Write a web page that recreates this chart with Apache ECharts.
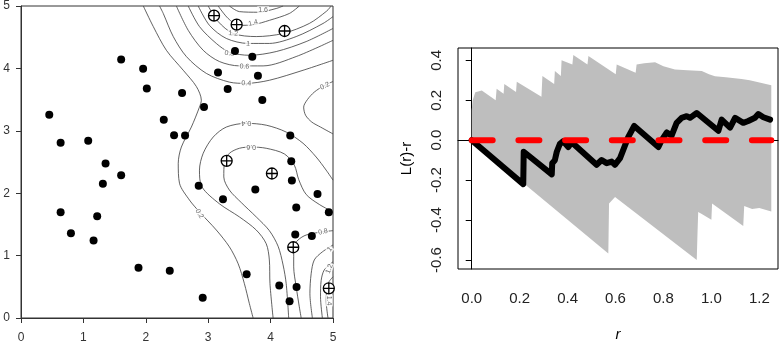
<!DOCTYPE html>
<html><head><meta charset="utf-8">
<script src="https://cdn.jsdelivr.net/npm/echarts@6/dist/echarts.min.js"></script>
<style>html,body{margin:0;padding:0;background:#fff}#c{width:784px;height:347px}</style>
</head><body><div id="c"></div>
<script>
// ===== Left panel: point pattern =====
const dotsX = [0.453,0.635,1.077,1.355,1.605,1.312,0.635,1.221,0.800,1.163,1.883,2.384,2.912,1.605,1.957,2.016,2.581,2.288,2.453,2.629,2.933,2.848,3.237,3.157,3.312,3.429,3.707,3.797,3.867,4.315,4.331,4.341,3.755,4.752,4.411,4.933,4.395,4.661,3.616,4.139,4.416,4.304];
const dotsY = [3.257,2.807,2.840,2.476,2.289,2.150,1.695,1.631,1.358,1.241,0.807,0.759,0.326,4.144,3.995,3.679,3.604,3.176,2.930,2.925,3.380,2.118,1.904,3.936,3.668,4.278,4.187,3.882,3.492,2.925,2.513,2.203,2.059,1.989,1.770,1.695,1.337,1.316,0.701,0.519,0.497,0.267];
const markX = [3.093,3.456,4.224,3.296,4.021,4.363,4.933];
const markY = [4.845,4.701,4.599,2.519,2.316,1.134,0.476];
const xTicksL = [0,1,2,3,4,5];
const yTicksL = [0,1,2,3,4,5];

// contour lines (x, y pairs)
const c02main = [[1.96,5],[2.12,4.67],[2.33,4.29],[2.60,3.97],[2.81,3.71],[2.89,3.49],[2.86,3.38],[2.73,3.06],[2.57,2.74],[2.52,2.48],[2.54,2.16],[2.70,1.89],[2.86,1.70],[3.13,1.41],[3.34,1.14],[3.48,0.87],[3.58,0.55],[3.66,0.23],[3.72,0]];
const c02pocket = [[5,3.79],[4.85,3.72],[4.70,3.62],[4.59,3.50],[4.53,3.38],[4.56,3.25],[4.66,3.14],[4.80,3.06],[5,2.95]];
const c04top = [[2.22,5],[2.28,4.88],[2.44,4.51],[2.65,4.19],[2.97,3.92],[3.34,3.78],[3.61,3.76],[3.98,3.81],[4.52,3.97],[5,4.13]];
const c06top = [[2.49,5],[2.68,4.61],[2.92,4.29],[3.18,4.11],[3.50,4.04],[3.88,4.04],[4.41,4.19],[5,4.45]];
const c08top = [[2.68,5],[2.86,4.67],[3.13,4.40],[3.34,4.26],[3.66,4.21],[4.09,4.27],[4.57,4.43],[5,4.64]];
const c10top = [[2.84,5],[3.02,4.69],[3.29,4.48],[3.64,4.40],[3.98,4.40],[4.41,4.51],[4.84,4.72],[5,4.83]];
const c12top = [[3.00,5],[3.16,4.75],[3.40,4.56],[3.77,4.51],[4.20,4.56],[4.62,4.72],[4.90,4.92],[4.97,5]];
const c14top = [[3.16,5],[3.32,4.80],[3.50,4.69],[3.72,4.70],[3.98,4.77],[4.30,4.88],[4.46,5]];
const c16top = [[3.34,5],[3.50,4.91],[3.80,4.90],[4.09,4.96],[4.20,5]];
const c04mid = [[5,2.21],[4.89,2.37],[4.73,2.58],[4.52,2.80],[4.25,2.98],[3.93,3.09],[3.61,3.12],[3.29,3.06],[3.08,2.90],[2.92,2.64],[2.86,2.37],[2.90,2.10],[3.18,1.83],[3.50,1.62],[3.77,1.41],[3.93,1.19],[3.98,0.93],[3.99,0.55],[4.04,0]];
const c06mid = [[5,1.70],[4.78,1.82],[4.57,1.98],[4.45,2.22],[4.38,2.45],[4.22,2.63],[3.93,2.72],[3.69,2.74],[3.50,2.72],[3.34,2.64],[3.26,2.50],[3.25,2.26],[3.34,2.05],[3.53,1.85],[3.77,1.62],[3.98,1.40],[4.12,1.15],[4.20,0.85],[4.25,0.55],[4.29,0]];
const c08br = [[5,1.40],[4.83,1.38],[4.57,1.33],[4.44,1.25],[4.37,1.14],[4.37,0.82],[4.41,0.50],[4.46,0.18],[4.49,0]];
const c10br = [[5,1.17],[4.83,1.06],[4.70,0.93],[4.65,0.71],[4.63,0.39],[4.67,0]];
const c12br = [[5,0.90],[4.86,0.77],[4.81,0.60],[4.80,0.34],[4.83,0]];
const c14br = [[5,0.66],[4.92,0.55],[4.89,0.28],[4.92,0]];
const contourLines = [c02main,c02pocket,c04top,c06top,c08top,c10top,c12top,c14top,c16top,c04mid,c06mid,c08br,c10br,c12br,c14br];

const labX   = [3.88,3.72,3.40,3.64,3.34,3.58,3.61,4.87,3.61,3.69,2.86,4.84,4.95,4.94,4.94];
const labY   = [4.94,4.73,4.56,4.39,4.24,4.03,3.76,3.72,3.12,2.74,1.67,1.38,1.10,0.79,0.28];
const labTxt = ['1.6','1.4','1.2','1','0.8','0.6','0.4','0.2','0.4','0.6','0.2','0.8','1','1.2','1.4'];
const labRot = [0,15,-5,-5,-8,-3,-3,25,180,180,-60,12,50,70,-90];

// ===== Right panel: L(r)-r =====
const rTicks = [0,0.2,0.4,0.6,0.8,1.0,1.2];
const vTicks = [-0.6,-0.4,-0.2,0.0,0.2,0.4];
const obsR = [0,0.215,0.217,0.334,0.336,0.347,0.355,0.368,0.382,0.403,0.417,0.521,0.542,0.563,0.584,0.598,0.619,0.632,0.653,0.678,0.779,0.792,0.814,0.834,0.855,0.876,0.897,0.911,0.939,1.029,1.043,1.078,1.099,1.133,1.154,1.182,1.196,1.217,1.245];
const obsV = [0,-0.220,-0.058,-0.171,-0.115,-0.100,-0.058,-0.018,-0.005,-0.034,-0.010,-0.123,-0.099,-0.115,-0.107,-0.123,-0.090,-0.050,0.015,0.071,-0.034,-0.001,0.039,0.023,0.087,0.112,0.120,0.112,0.136,0.047,0.103,0.063,0.112,0.087,0.096,0.112,0.131,0.115,0.103];
const envUpR = [0,0.004,0.015,0.042,0.100,0.104,0.133,0.136,0.185,0.188,0.291,0.295,0.344,0.347,0.372,0.375,0.420,0.424,0.483,0.487,0.601,0.605,0.684,0.688,0.720,0.765,0.800,0.848,0.900,0.960,0.990,1.015,1.060,1.126,1.160,1.196,1.250];
const envUpV = [0.15,0.20,0.24,0.249,0.20,0.257,0.233,0.282,0.241,0.293,0.217,0.322,0.282,0.346,0.322,0.400,0.379,0.427,0.379,0.422,0.330,0.379,0.338,0.379,0.385,0.390,0.370,0.354,0.350,0.346,0.330,0.320,0.315,0.306,0.300,0.290,0.275];
const envLoR = [0,0.570,0.573,0.598,0.939,0.942,0.945,0.960,1.000,1.003,1.133,1.137,1.170,1.200,1.250];
const envLoV = [0,-0.568,-0.317,-0.285,-0.600,-0.470,-0.360,-0.370,-0.398,-0.317,-0.430,-0.330,-0.345,-0.340,-0.357];
const theoR = [0,1.25];
const theoV = [0,0];

const FONT = "'Liberation Sans', Arial, sans-serif";
const chart = echarts.init(document.getElementById('c'), null, {renderer:'canvas'});

const series = [];
contourLines.forEach(function(cl){
  series.push({type:'line', xAxisIndex:0, yAxisIndex:0, data:cl, smooth:0.3, symbol:'none', silent:true,
    lineStyle:{color:'#3a3a3a', width:0.8}, z:2, animation:false});
});
series.push({type:'scatter', xAxisIndex:0, yAxisIndex:0, symbolSize:0, silent:true, z:3, animation:false,
  data: labX.map(function(x,i){return {value:[x,labY[i]], name:labTxt[i], label:{rotate:labRot[i]}};}),
  label:{show:true, position:'inside', formatter:'{b}', fontSize:7, color:'#444', fontFamily:FONT,
    backgroundColor:'#fff', padding:[0,1]}});
series.push({type:'scatter', xAxisIndex:0, yAxisIndex:0, symbol:'circle', symbolSize:8, z:4, animation:false,
  data: dotsX.map(function(x,i){return [x,dotsY[i]];}), itemStyle:{color:'#000', opacity:1}});
series.push({type:'scatter', xAxisIndex:0, yAxisIndex:0, z:5, animation:false,
  symbol:'path://M10,0A10,10,0,1,1,-10,0A10,10,0,1,1,10,0ZM-10,0L10,0M0,-10L0,10', symbolSize:11,
  data: markX.map(function(x,i){return [x,markY[i]];}),
  itemStyle:{color:'#fff', borderColor:'#000', borderWidth:1.3, opacity:1}});

series.push({type:'custom', xAxisIndex:1, yAxisIndex:1, silent:true, z:1, animation:false, data:[[0,0]],
  renderItem:function(params, api){
    const pts = [];
    for (let i=0;i<envUpR.length;i++) pts.push(api.coord([envUpR[i], envUpV[i]]));
    for (let i=envLoR.length-1;i>=0;i--) pts.push(api.coord([envLoR[i], envLoV[i]]));
    return {type:'polygon', shape:{points:pts}, style:{fill:'#bebebe', stroke:null}};
  }});
series.push({type:'line', xAxisIndex:1, yAxisIndex:1, symbol:'none', z:3, animation:false, silent:true,
  data: obsR.map(function(r,i){return [r,obsV[i]];}),
  lineStyle:{color:'#000', width:6, cap:'round', join:'round'}});
series.push({type:'line', xAxisIndex:1, yAxisIndex:1, symbol:'none', z:4, animation:false, silent:true,
  data: theoR.map(function(r,i){return [r,theoV[i]];}),
  lineStyle:{color:'#ff0000', width:6, type:[21,25.7], cap:'round'}});

const axisLbl = {fontFamily:FONT, color:'#222'};
chart.setOption({
  animation:false,
  backgroundColor:'#fff',
  grid:[
    {left:21, top:6, width:312, height:312, show:true, borderColor:'#333', borderWidth:1, backgroundColor:'transparent'},
    {left:458, top:48, width:320, height:228, show:true, borderColor:'#000', borderWidth:1, backgroundColor:'transparent'}
  ],
  xAxis:[
    {type:'value', gridIndex:0, min:0, max:5, interval:1, splitLine:{show:false},
     axisLine:{show:true, lineStyle:{color:'#333'}}, axisTick:{show:true, length:5, lineStyle:{color:'#333'}},
     axisLabel:{fontSize:12, margin:14, color:'#333', fontFamily:FONT}},
    {type:'value', gridIndex:1, min:-0.0572, max:1.278, splitLine:{show:false},
     axisLine:{show:true, lineStyle:{color:'#000'}},
     axisTick:{show:true, length:6, customValues:rTicks, lineStyle:{color:'#000'}},
     axisLabel:Object.assign({fontSize:15, margin:22, customValues:rTicks, formatter:function(v){return v.toFixed(1);}}, axisLbl),
     name:'r', nameLocation:'middle', nameGap:58, nameTextStyle:{fontFamily:FONT, fontSize:15, fontStyle:'italic', color:'#000'}}
  ],
  yAxis:[
    {type:'value', gridIndex:0, min:0, max:5, interval:1, splitLine:{show:false},
     axisLine:{show:true, lineStyle:{color:'#333'}}, axisTick:{show:true, length:5, lineStyle:{color:'#333'}},
     axisLabel:{fontSize:12, margin:11, color:'#333', fontFamily:FONT}},
    {type:'value', gridIndex:1, min:-0.6451, max:0.4617, splitLine:{show:false},
     axisLine:{show:true, lineStyle:{color:'#000'}},
     axisTick:{show:true, length:6, customValues:vTicks, lineStyle:{color:'#000'}},
     axisLabel:Object.assign({fontSize:15, margin:14, rotate:90, customValues:vTicks, formatter:function(v){return v.toFixed(1);}}, axisLbl),
     name:'L(r)-r', nameLocation:'middle', nameRotate:90, nameGap:44, nameTextStyle:{fontFamily:FONT, fontSize:15, color:'#000'}}
  ],
  series:series
});
</script>
</body></html>
